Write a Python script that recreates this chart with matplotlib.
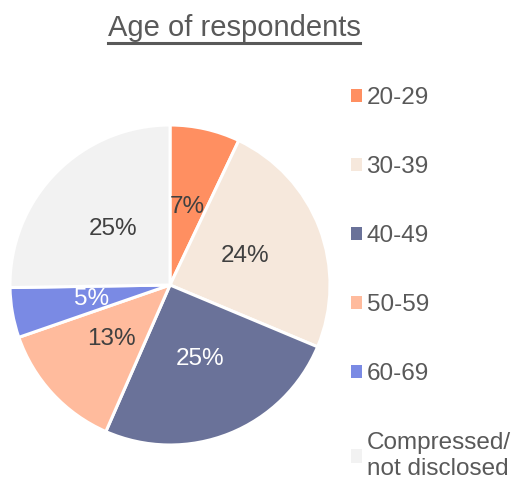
import matplotlib
matplotlib.use("Agg")
import matplotlib.pyplot as plt
from matplotlib.lines import Line2D
from matplotlib.patches import Patch

plt.rcParams['font.family'] = ['Liberation Sans', 'DejaVu Sans']

# data
labels = ["20-29", "30-39", "40-49", "50-59", "60-69", "Compressed/\nnot disclosed"]
shares = [7, 24, 25, 13, 5, 25]
colors = ["#FF8F61", "#F6E8DC", "#6A7299", "#FFBB9D", "#7A8AE4", "#F2F2F2"]
text_colors = ["#404040", "#404040", "white", "#404040", "white", "#404040"]

W, H = 511, 479
fig = plt.figure(figsize=(W / 100, H / 100), dpi=100)

# pie axes: centre (170, 285) px, radius 160 px
ax = fig.add_axes([10 / W, 34 / H, 320 / W, 320 / H])
wedges, texts = ax.pie(shares, colors=colors, startangle=90, counterclock=False,
                       labels=[f"{s}%" for s in shares], labeldistance=0.5,
                       wedgeprops=dict(edgecolor="white", linewidth=2.2))
for t, c in zip(texts, text_colors):
    t.set_color(c)
    t.set_fontsize(17.5)
    t.set_ha("center")
    t.set_va("center")
ax.set_xlim(-1, 1)
ax.set_ylim(-1, 1)

# title with underline
title = fig.text(234 / W, 1 - 28 / H, "Age of respondents", ha="center", va="center",
                 fontsize=21, color="#595959")
fig.canvas.draw()
bb = title.get_window_extent()
uy = 1 - 42.5 / H
fig.add_artist(Line2D([bb.x0 / W, bb.x1 / W], [uy, uy], color="#595959", lw=2.2,
                      transform=fig.transFigure))

# legend
handles = [Patch(facecolor=c, edgecolor="none") for c in colors]
leg = fig.legend(handles, labels, loc="upper left", bbox_to_anchor=(341 / W, 1 - 77 / H),
                 frameon=False, fontsize=17.5, labelcolor="#595959",
                 handlelength=0.45, handleheight=0.45, handletextpad=0.2,
                 labelspacing=1.94, borderaxespad=0)

fig.savefig("out.png", dpi=100)
